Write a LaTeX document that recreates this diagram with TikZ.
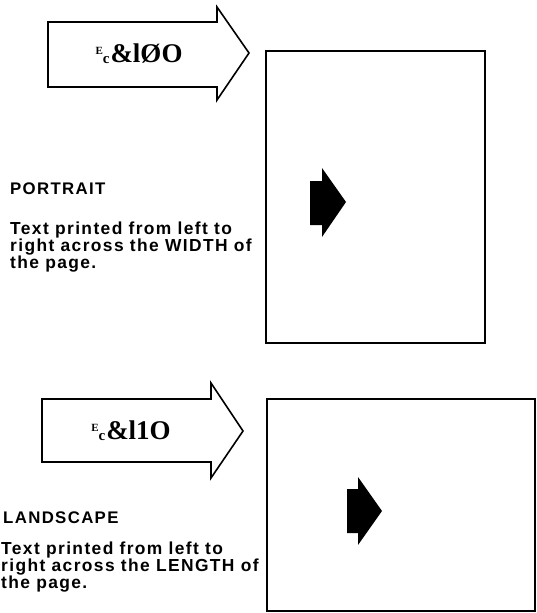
\documentclass[tikz,border=0pt]{standalone}
\usepackage{fontspec}
\setmainfont{Liberation Sans}[LetterSpace=8]
\newfontfamily\escfont{Liberation Serif}
\usetikzlibrary{positioning}
\tikzset{
  pagebox/.style={draw=black, line width=1.5pt, fill=white},
  hollowarrow/.style={draw=black, line width=1.6pt, line join=miter, fill=white},
  solidarrow/.style={fill=black, draw=none},
  esclbl/.style={inner sep=0pt, font=\escfont\bfseries\fontsize{27}{27}\selectfont},
  headlbl/.style={inner sep=0pt, anchor=base west, font=\bfseries\fontsize{16.8}{17}\selectfont},
  bodylbl/.style={inner sep=0pt, anchor=north west, align=left,
                  font=\bfseries\fontsize{17.4}{17}\selectfont}
}
\newcommand{\escseq}[1]{\raisebox{8pt}{\fontsize{11}{11}\selectfont E}\raisebox{-1pt}{\fontsize{15}{15}\selectfont c}\kern1pt\&l#1O}
\begin{document}
\begin{tikzpicture}[x=1pt,y=-1pt]
  \useasboundingbox (0,0) rectangle (537,613);
  % portrait
  \draw[hollowarrow] (48,22) -- (217,22) -- (217,7) -- (249,53) -- (217,100) -- (217,87) -- (48,87) -- cycle;
  \node[esclbl] (escport) at (139,54) {\escseq{\O}};
  \draw[pagebox] (266,51) rectangle (485,343);
  \fill[solidarrow] (310,181) -- (322,181) -- (322,168) -- (346,202) -- (322,237) -- (322,225) -- (310,225) -- cycle;
  \node[headlbl] (porthead) at (10,194) {PORTRAIT};
  \node[bodylbl] (porttext) at (10,222) {Text printed from left to\\right across the WIDTH of\\the page.};
  % landscape
  \draw[hollowarrow] (42,399) -- (211,399) -- (211,383) -- (243,431) -- (211,478) -- (211,462) -- (42,462) -- cycle;
  \node[esclbl] (escland) at (131,431) {\escseq{1}};
  \draw[pagebox] (267,399) rectangle (535,611);
  \fill[solidarrow] (347,489) -- (358,489) -- (358,477) -- (382,511) -- (358,545) -- (358,533) -- (347,533) -- cycle;
  \node[headlbl] (landhead) at (3,523) {LANDSCAPE};
  \node[bodylbl] (landtext) at (1,542) {Text printed from left to\\right across the LENGTH of\\the page.};
\end{tikzpicture}
\end{document}
